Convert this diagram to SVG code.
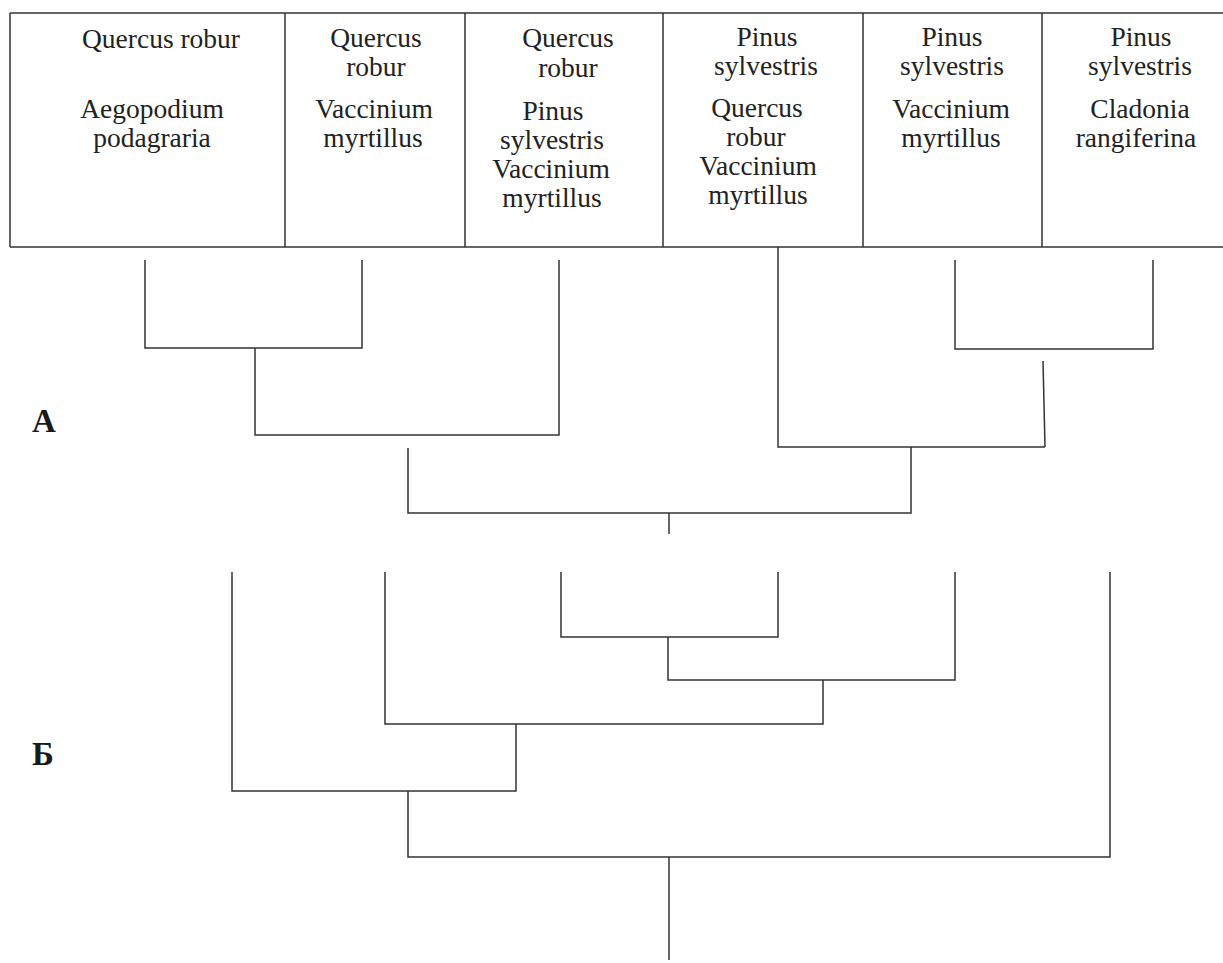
<svg xmlns="http://www.w3.org/2000/svg" width="1223" height="963" viewBox="0 0 1223 963">
<style>
.t{font-family:"Liberation Serif","Times New Roman",serif;font-size:27.5px;fill:#222;text-anchor:middle}
.lbl{font-family:"Liberation Serif","Times New Roman",serif;font-size:33px;font-weight:bold;fill:#1a1a1a}
.ln{stroke:#333;stroke-width:1.5;fill:none}
</style>
<rect width="1223" height="963" fill="#fff"/>
<g id="table" class="ln">
<path d="M10,13 H1223 M10,247 H1223 M10,13 V247 M285,13 V247 M465,13 V247 M663,13 V247 M863,13 V247 M1042,13 V247"/>
</g>
<g id="cell1">
<text class="t" x="161" y="48">Quercus robur</text>
<text class="t" x="152" y="118">Aegopodium</text>
<text class="t" x="152" y="147">podagraria</text>
</g>
<g id="cell2">
<text class="t" x="376" y="47">Quercus</text>
<text class="t" x="376" y="76">robur</text>
<text class="t" x="374" y="118">Vaccinium</text>
<text class="t" x="373" y="147">myrtillus</text>
</g>
<g id="cell3">
<text class="t" x="568" y="47">Quercus</text>
<text class="t" x="568" y="77">robur</text>
<text class="t" x="553" y="120">Pinus</text>
<text class="t" x="552" y="149">sylvestris</text>
<text class="t" x="551" y="178">Vaccinium</text>
<text class="t" x="552" y="207">myrtillus</text>
</g>
<g id="cell4">
<text class="t" x="767" y="46">Pinus</text>
<text class="t" x="766" y="75">sylvestris</text>
<text class="t" x="757" y="117">Quercus</text>
<text class="t" x="756" y="146">robur</text>
<text class="t" x="758" y="175">Vaccinium</text>
<text class="t" x="758" y="204">myrtillus</text>
</g>
<g id="cell5">
<text class="t" x="952" y="46">Pinus</text>
<text class="t" x="952" y="75">sylvestris</text>
<text class="t" x="951" y="118">Vaccinium</text>
<text class="t" x="951" y="147">myrtillus</text>
</g>
<g id="cell6">
<text class="t" x="1141" y="46">Pinus</text>
<text class="t" x="1140" y="75">sylvestris</text>
<text class="t" x="1140" y="118">Cladonia</text>
<text class="t" x="1136" y="147">rangiferina</text>
</g>
<g id="labelA"><text class="lbl" x="32" y="432">А</text></g>
<g id="labelB"><text class="lbl" x="32" y="765">Б</text></g>
<g id="connectors" class="ln">
<path d="M145,260 V348 H362 V260"/>
<path d="M255,348 V435 H559 V260"/>
<path d="M955,260 V349 H1153 V260"/>
<path d="M1043,361 L1045,447"/>
<path d="M778,247 V447 H1045"/>
<path d="M408,448 V513 H911 V447"/>
<path d="M669,513 V534"/>
<path d="M561,572 V637 H778 V572"/>
<path d="M668,637 V680 H955 V572"/>
<path d="M385,572 V724 H823 V680"/>
<path d="M232,572 V791 H516 V724"/>
<path d="M408,791 V857 H1110 V572"/>
<path d="M669,857 V960"/>
</g>
</svg>
